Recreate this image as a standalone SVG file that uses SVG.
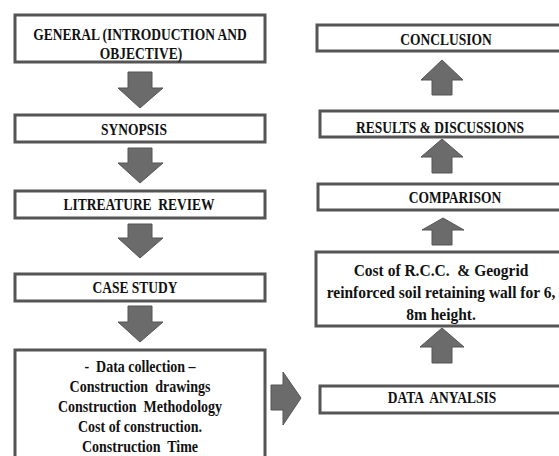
<svg xmlns="http://www.w3.org/2000/svg" width="559" height="456" viewBox="0 0 559 456">
<style>
.box{fill:#fff;stroke:#555;stroke-width:3}
.arr{fill:#6b6b6b;stroke:#555;stroke-width:1}
text{font-family:"Liberation Serif","Times New Roman",serif;font-weight:bold;fill:#111;text-anchor:middle;white-space:pre}
.t{font-size:13.5px}
.d{font-size:14px}
.c{font-size:15.5px}
</style>
<rect width="559" height="456" fill="#fff"/>
<g id="connectors">
<polygon class="arr" points="128,72 152,72 152,88 163,88 140,108 118,88 128,88"/>
<polygon class="arr" points="128,148 152,148 152,163 163,163 140,183 118,163 128,163"/>
<polygon class="arr" points="128,224 152,224 152,238 163,238 140,258 118,238 128,238"/>
<polygon class="arr" points="128,306 152,306 152,322 163,322 140,342 118,322 128,322"/>
<polygon class="arr" points="271,385 283,385 283,372 301,398 283,425 283,410 271,410"/>
<polygon class="arr" points="432,363 452,363 452,347 464,347 442,328 420,347 432,347"/>
<polygon class="arr" points="432,245 452,245 452,230 464,230 443,218 422,230 432,230"/>
<polygon class="arr" points="432,173 452,173 452,157 463,157 442,139 421,157 432,157"/>
<polygon class="arr" points="432,95 452,95 452,80 463,80 442,60 421,80 432,80"/>
</g>
<g id="general">
<rect class="box" x="15" y="15" width="250" height="47"/>
<text class="t" transform="translate(140,40) scale(1,1.22)">GENERAL (INTRODUCTION AND</text>
<text class="t" transform="translate(141,59) scale(1,1.22)">OBJECTIVE)</text>
</g>
<g id="synopsis">
<rect class="box" x="15" y="115" width="250" height="27"/>
<text class="t" transform="translate(134,135) scale(1,1.22)">SYNOPSIS</text>
</g>
<g id="literature">
<rect class="box" x="15" y="191" width="250" height="27"/>
<text class="t" xml:space="preserve" transform="translate(139,210) scale(1,1.22)">LITREATURE  REVIEW</text>
</g>
<g id="casestudy">
<rect class="box" x="15" y="274" width="250" height="27"/>
<text class="t" transform="translate(135,293) scale(1,1.22)">CASE STUDY</text>
</g>
<g id="datacollection">
<rect class="box" x="15" y="350" width="250" height="120"/>
<text class="d" xml:space="preserve" transform="translate(140,372) scale(1,1.12)">-  Data collection –</text>
<text class="d" xml:space="preserve" transform="translate(140,392) scale(1,1.12)">Construction  drawings</text>
<text class="d" xml:space="preserve" transform="translate(140,412) scale(1,1.12)">Construction  Methodology</text>
<text class="d" transform="translate(140,432) scale(1,1.12)">Cost of construction.</text>
<text class="d" xml:space="preserve" transform="translate(140,452) scale(1,1.12)">Construction  Time</text>
</g>
<g id="conclusion">
<rect class="box" x="317" y="25" width="250" height="26"/>
<text class="t" transform="translate(446,45) scale(1,1.22)">CONCLUSION</text>
</g>
<g id="results">
<rect class="box" x="320" y="111" width="247" height="26"/>
<text class="t" transform="translate(440,133) scale(1,1.22)">RESULTS &amp; DISCUSSIONS</text>
</g>
<g id="comparison">
<rect class="box" x="318" y="184" width="249" height="26"/>
<text class="t" transform="translate(455,203) scale(1,1.22)">COMPARISON</text>
</g>
<g id="cost">
<rect class="box" x="316" y="252" width="251" height="74"/>
<text class="c" xml:space="preserve" transform="translate(441,276) scale(1,1.08)">Cost of R.C.C.  &amp; Geogrid</text>
<text class="c" transform="translate(441,298) scale(1,1.08)">reinforced soil retaining wall for 6,</text>
<text class="c" transform="translate(441,320) scale(1,1.08)">8m height.</text>
</g>
<g id="dataanalysis">
<rect class="box" x="320" y="386" width="247" height="27"/>
<text class="t" xml:space="preserve" transform="translate(442,403) scale(1,1.22)">DATA  ANYALSIS</text>
</g>
</svg>
